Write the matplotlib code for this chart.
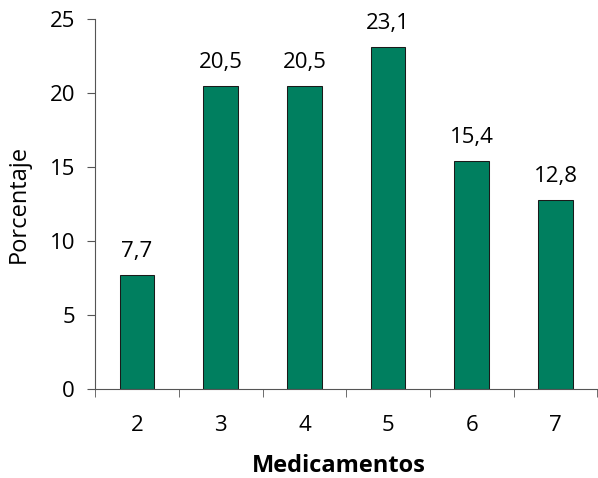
import numpy as np
import matplotlib
matplotlib.use("Agg")
import matplotlib.pyplot as plt

plt.rcParams['font.family'] = ['Open Sans', 'DejaVu Sans']

medicamentos = ["2", "3", "4", "5", "6", "7"]
porcentaje = [7.7, 20.5, 20.5, 23.1, 15.4, 12.8]
etiquetas = ["7,7", "20,5", "20,5", "23,1", "15,4", "12,8"]

fig = plt.figure(figsize=(5.98, 4.78), dpi=100)
ax = fig.add_axes([0.159, 0.186, 0.840, 0.774])

x = np.arange(len(medicamentos))
bars = ax.bar(x, porcentaje, width=0.415, color="#007F5F",
              edgecolor="#1a1a1a", linewidth=0.75)
for b, t in zip(bars, etiquetas):
    ax.annotate(t, (b.get_x() + b.get_width() / 2, b.get_height()),
                xytext=(0, 13), textcoords="offset points",
                ha="center", va="baseline", fontsize=16)

ax.set_xlim(-0.5, len(medicamentos) - 0.5)
ax.set_ylim(0, 25)
ax.set_yticks([0, 5, 10, 15, 20, 25])
ax.set_xticks(x)
ax.set_xticklabels(medicamentos)
ax.set_xticks(np.arange(-0.5, len(medicamentos)), minor=True)
ax.tick_params(axis="x", which="major", length=0, pad=19, labelsize=16)
ax.tick_params(axis="x", which="minor", length=6, direction="out", color="#555555")
ax.tick_params(axis="y", length=6, direction="out", color="#555555", labelsize=16, pad=8.5)

for s in ["top", "right"]:
    ax.spines[s].set_visible(False)
ax.spines["left"].set_color("#555555")
ax.spines["bottom"].set_color("#555555")

ax.set_ylabel("Porcentaje", fontsize=17)
ax.yaxis.set_label_coords(-0.129, 0.5)
ax.set_xlabel("Medicamentos", fontsize=17, fontweight="bold", va="top")
ax.xaxis.set_label_coords(0.486, -0.175)

fig.savefig("out.png", dpi=100)
